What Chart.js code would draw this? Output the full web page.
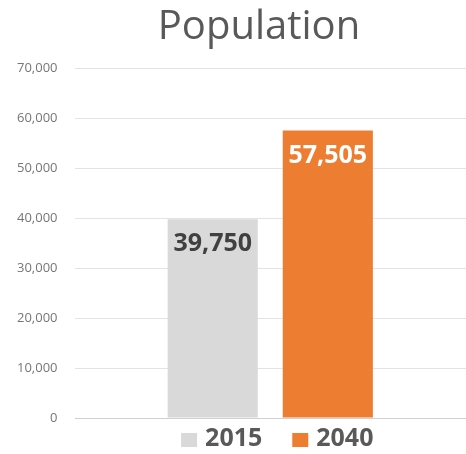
<!DOCTYPE html>
<html>
<head>
<meta charset="utf-8">
<script src="https://cdn.jsdelivr.net/npm/chart.js@4/dist/chart.umd.min.js"></script>
<style>
  html, body { margin: 0; padding: 0; background: #ffffff; }
  #wrap { width: 466px; height: 454px; }
</style>
</head>
<body>
<div id="wrap"><canvas id="chart" width="466" height="454"></canvas></div>
<script>
// Population figures by year
const categories = [''];
const years = ['2015', '2040'];
const population2015 = [39750];
const population2040 = [57505];
const yTicks = [0, 10000, 20000, 30000, 40000, 50000, 60000, 70000];

const FONT = '"Open Sans", "DejaVu Sans", sans-serif';
const fmt = v => v.toLocaleString('en-US');

// Writes each bar's value just inside its top edge
const valueLabels = {
  id: 'valueLabels',
  afterDatasetsDraw(chart) {
    const ctx = chart.ctx;
    ctx.save();
    ctx.font = 'bold 25px ' + FONT;
    ctx.textAlign = 'center';
    ctx.textBaseline = 'middle';
    chart.data.datasets.forEach((ds, i) => {
      const meta = chart.getDatasetMeta(i);
      meta.data.forEach((bar, j) => {
        ctx.fillStyle = ds.labelColor;
        ctx.fillText(fmt(ds.data[j]), bar.x, bar.y + 25);
      });
    });
    ctx.restore();
  }
};

// Key below the plot: a square swatch and the year for each dataset
const bottomKey = {
  id: 'bottomKey',
  afterDraw(chart) {
    const ctx = chart.ctx;
    const area = chart.chartArea;
    const box = { w: 16, h: 14 }, gapText = 8, gapItem = 30;
    ctx.save();
    ctx.font = 'bold 25px ' + FONT;
    ctx.textBaseline = 'middle';
    ctx.textAlign = 'left';
    const items = chart.data.datasets.map(ds => ({
      text: ds.label, color: ds.backgroundColor, w: ctx.measureText(ds.label).width
    }));
    const total = items.reduce((s, it) => s + box.w + gapText + it.w, 0) + gapItem * (items.length - 1);
    const cy = area.bottom + 21;
    let x = (area.left + area.right) / 2 + 7 - total / 2;
    items.forEach(it => {
      ctx.fillStyle = it.color;
      ctx.fillRect(x, cy - box.h / 2 + 1, box.w, box.h);
      x += box.w + gapText;
      ctx.fillStyle = '#595959';
      ctx.fillText(it.text, x, cy);
      x += it.w + gapItem;
    });
    ctx.restore();
  }
};

// Centre the heading over the span to the right of the tick labels
const headingSpan = {
  id: 'headingSpan',
  afterLayout(chart) {
    if (chart.titleBlock) chart.titleBlock.left = 52;
  }
};

new Chart(document.getElementById('chart'), {
  type: 'bar',
  data: {
    labels: categories,
    datasets: [
      { label: years[0], data: population2015, backgroundColor: '#d9d9d9', labelColor: '#404040' },
      { label: years[1], data: population2040, backgroundColor: '#ed7d31', labelColor: '#ffffff' }
    ]
  },
  options: {
    responsive: false,
    animation: false,
    devicePixelRatio: 1,
    categoryPercentage: 0.588,
    barPercentage: 0.783,
    layout: { padding: { left: 0, right: 0, top: 0, bottom: 36 } },
    plugins: {
      title: {
        display: true,
        text: 'Population',
        color: '#595959',
        font: { family: FONT, size: 40, weight: 'normal', lineHeight: 1.2 },
        padding: { top: 4, bottom: 16 }
      },
      legend: { display: false },
      tooltip: { enabled: false }
    },
    scales: {
      x: { display: false },
      y: {
        min: 0,
        max: 70000,
        afterBuildTicks(scale) { scale.ticks = yTicks.map(v => ({ value: v })); },
        ticks: {
          color: '#767676',
          font: { family: FONT, size: 13 },
          padding: 17,
          callback: v => fmt(v)
        },
        grid: {
          color: ctx => ctx.tick && ctx.tick.value === 0 ? '#d0d0d0' : '#e3e3e3',
          lineWidth: 1,
          drawTicks: false
        },
        border: { display: false }
      }
    }
  },
  plugins: [valueLabels, bottomKey, headingSpan]
});
</script>
</body>
</html>
